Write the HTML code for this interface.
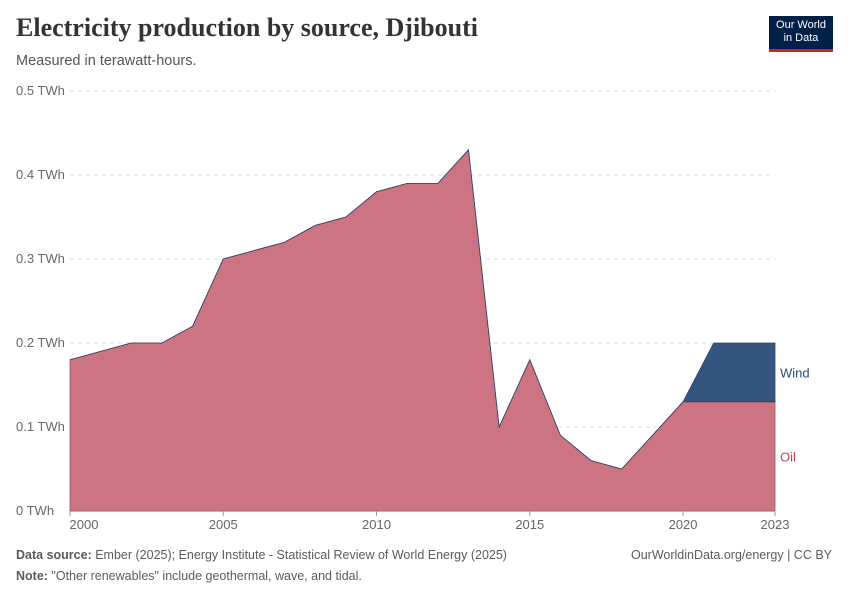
<!DOCTYPE html>
<html><head><meta charset="utf-8"><style>
body{margin:0;background:#fff;font-family:"Liberation Sans",sans-serif;}
#wrap{position:relative;width:850px;height:600px;overflow:hidden;}
.title{position:absolute;left:16px;top:13px;font-family:"Liberation Serif",serif;font-size:26px;color:#333;font-weight:bold;}
.sub{position:absolute;left:16px;top:53px;font-size:14.5px;color:#555;}
.logo{position:absolute;left:769px;top:16px;width:64px;height:36px;background:#002147;color:#fff;font-size:11px;text-align:center;line-height:13px;padding-top:3px;box-sizing:border-box;border-bottom:3px solid #ce261e;}
.foot{position:absolute;font-size:12.5px;color:#5b5b5b;}
</style></head><body><div id="wrap">
<div class="title">Electricity production by source, Djibouti</div>
<div class="sub">Measured in terawatt-hours.</div>
<div class="logo">Our World<br>in Data</div>
<svg id="svg" width="850" height="600" style="position:absolute;left:0;top:0"></svg>
<div class="foot" style="left:16px;top:548px"><b>Data source:</b> Ember (2025); Energy Institute - Statistical Review of World Energy (2025)</div>
<div class="foot" style="right:18px;top:548px">OurWorldinData.org/energy | CC BY</div>
<div class="foot" style="left:16px;top:569px"><b>Note:</b> "Other renewables" include geothermal, wave, and tidal.</div>
</div>
<script>
const years=[2000,2001,2002,2003,2004,2005,2006,2007,2008,2009,2010,2011,2012,2013,2014,2015,2016,2017,2018,2019,2020,2021,2022,2023];
const oil=[0.18,0.19,0.20,0.20,0.22,0.30,0.31,0.32,0.34,0.35,0.38,0.39,0.39,0.43,0.10,0.18,0.09,0.06,0.05,0.09,0.13,0.13,0.13,0.13];
const wind=[0,0,0,0,0,0,0,0,0,0,0,0,0,0,0,0,0,0,0,0,0,0.07,0.07,0.07];
const yTicks=[0,0.1,0.2,0.3,0.4,0.5];
const yLabels=["0 TWh","0.1 TWh","0.2 TWh","0.3 TWh","0.4 TWh","0.5 TWh"];
const xTicks=[2000,2005,2010,2015,2020,2023];
const NS="http://www.w3.org/2000/svg",svg=document.getElementById('svg');
const X=y=>70+(y-2000)*(705/23), Y=v=>511-v*840;
function el(t,a){const e=document.createElementNS(NS,t);for(const k in a)e.setAttribute(k,a[k]);svg.appendChild(e);return e;}
yTicks.forEach((v,i)=>{
 const g=el('line',{x1:70,x2:775,y1:Y(v),y2:Y(v),stroke:v===0?'#999':'#ddd','stroke-dasharray':v===0?'':'4,4'});
 
 
 const t=el('text',{x:16,y:Y(v)+4,'font-size':13,fill:'#666','font-family':'Liberation Sans'});t.textContent=yLabels[i];
 
 
});
const stackTop=oil.map((v,i)=>v+wind[i]);
let p='M'+X(years[0])+','+Y(0);years.forEach((y,i)=>p+=' L'+X(y)+','+Y(oil[i]));p+=' L'+X(years[years.length-1])+','+Y(0)+'Z';
const a1=el('path',{d:p,fill:'#cc7482',stroke:'#8a5a62','stroke-width':0.8});


let q='';years.forEach((y,i)=>q+=(i?' L':'M')+X(y)+','+Y(stackTop[i]));
for(let i=years.length-1;i>=0;i--)q+=' L'+X(years[i])+','+Y(oil[i]);q+='Z';
const a2=el('path',{d:q,fill:'#34567e',stroke:'#2a4466','stroke-width':0.8});


xTicks.forEach(y=>{
 const l=el('line',{x1:X(y),x2:X(y),y1:511,y2:516,stroke:'#999'});
 
 
 const t=el('text',{x:X(y)+(y===2000?14:0),y:529,'font-size':13,fill:'#666','text-anchor':'middle','font-family':'Liberation Sans'});t.textContent=y;
 
 
});
const n=years.length-1;
const lw=el('text',{x:780,y:(Y(stackTop[n])+Y(oil[n]))/2+5,'font-size':13,fill:'#2a4a78','font-family':'Liberation Sans'});lw.textContent='Wind';


const lo=el('text',{x:780,y:Y(oil[n]/2)+5,'font-size':13,fill:'#c2454e','font-family':'Liberation Sans'});lo.textContent='Oil';


</script></body></html>
